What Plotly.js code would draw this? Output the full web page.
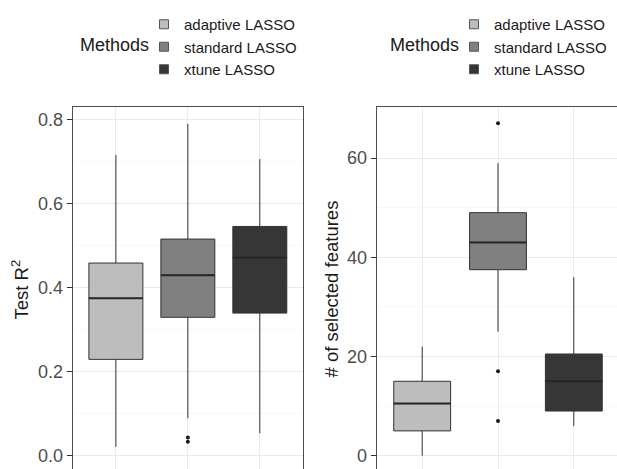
<!DOCTYPE html>
<html>
<head>
<meta charset="utf-8">
<script src="https://cdn.plot.ly/plotly-3.0.1.min.js"></script>
<style>
html,body{margin:0;padding:0;overflow:hidden;background:#fff;}
#chart{width:630px;height:480px;}
</style>
</head>
<body>
<div id="chart"></div>
<script>
// ---- data ----
const methods = ['adaptive LASSO', 'standard LASSO', 'xtune LASSO'];
const fills = ['#bdbdbd', '#808080', '#363636'];

// Test R^2 box statistics
const r2Lower  = [0.021, 0.089, 0.053];
const r2Q1     = [0.229, 0.329, 0.339];
const r2Median = [0.374, 0.429, 0.471];
const r2Q3     = [0.458, 0.515, 0.545];
const r2Upper  = [0.715, 0.789, 0.705];
const r2OutMethod = [1, 1];
const r2OutValue  = [0.043, 0.033];

// # of selected features box statistics
const nfLower  = [0, 25, 6];
const nfQ1     = [5, 37.5, 9];
const nfMedian = [10.5, 43, 15];
const nfQ3     = [15, 49, 20.5];
const nfUpper  = [22, 59, 36];
const nfOutMethod = [1, 1, 1];
const nfOutValue  = [67, 17, 7];

const r2Ticks = [0, 0.2, 0.4, 0.6, 0.8];
const nfTicks = [0, 20, 40, 60];

// ---- styling ----
const FONT = 'Liberation Sans, Arial, Helvetica, sans-serif';
const BOXW = 0.75;
const traces = [];

function addPanel(lower, q1, med, q3, upper, outM, outV, xa, ya, legendId) {
  methods.forEach((m, i) => {
    traces.push({
      type: 'box', name: m, x: [i + 1],
      q1: [q1[i]], median: [med[i]], q3: [q3[i]],
      lowerfence: [lower[i]], upperfence: [upper[i]],
      width: BOXW, fillcolor: fills[i],
      line: {color: '#333333', width: 1},
      whiskerwidth: 0, boxpoints: false,
      xaxis: xa, yaxis: ya, showlegend: false, hoverinfo: 'skip'
    });
    // small legend key
    traces.push({
      type: 'scatter', mode: 'markers', name: m, x: [null], y: [null],
      marker: {symbol: 'square', size: 9, color: fills[i], line: {color: '#555555', width: 1}},
      xaxis: xa, yaxis: ya, legend: legendId, showlegend: true, hoverinfo: 'skip'
    });
  });
  // thicker median lines (from the median array)
  const mx = [], my = [];
  med.forEach((v, i) => { mx.push(i + 1 - BOXW / 2, i + 1 + BOXW / 2, null); my.push(v, v, null); });
  traces.push({type: 'scatter', mode: 'lines', x: mx, y: my, line: {color: '#262626', width: 2},
    xaxis: xa, yaxis: ya, showlegend: false, hoverinfo: 'skip'});
  traces.push({type: 'scatter', mode: 'markers', x: outM.map(k => k + 1), y: outV,
    marker: {color: '#1a1a1a', size: 4}, xaxis: xa, yaxis: ya, showlegend: false, hoverinfo: 'skip'});
}

addPanel(r2Lower, r2Q1, r2Median, r2Q3, r2Upper, r2OutMethod, r2OutValue, 'x', 'y', 'legend');
addPanel(nfLower, nfQ1, nfMedian, nfQ3, nfUpper, nfOutMethod, nfOutValue, 'x2', 'y2', 'legend2');

const W = 630, H = 480;
const yDom = [(H - 472) / H, (H - 107) / H];

function xAxis(dom) {
  return {domain: dom, range: [0.4, 3.6], tickvals: [1, 2, 3], showticklabels: false,
    showgrid: true, gridcolor: '#ebebeb', gridwidth: 1, zeroline: false,
    showline: true, mirror: true, linecolor: '#4d4d4d', linewidth: 1,
    ticks: 'outside', ticklen: 5, tickcolor: '#333333', fixedrange: true};
}
function yAxis(range, ticks, fmt, minorStep, anchor) {
  return {domain: yDom, range: range, tickvals: ticks, tickformat: fmt, anchor: anchor,
    showgrid: true, gridcolor: '#ebebeb', gridwidth: 1, zeroline: false,
    minor: {dtick: minorStep, tick0: 0, showgrid: true, gridcolor: '#f3f3f3', gridwidth: 0.6, ticklen: 0},
    showline: true, mirror: true, linecolor: '#4d4d4d', linewidth: 1,
    ticks: 'outside', ticklen: 5, tickcolor: '#333333',
    tickfont: {family: FONT, size: 18, color: '#4d4d4d'}, fixedrange: true};
}

const legendCommon = {
  font: {family: FONT, size: 15, color: '#1a1a1a'}, bgcolor: 'rgba(0,0,0,0)',
  yanchor: 'top', xanchor: 'left', tracegroupgap: 0, itemclick: false, itemdoubleclick: false
};

const layout = {
  width: W, height: H,
  margin: {l: 0, r: 0, t: 0, b: 0},
  paper_bgcolor: '#ffffff', plot_bgcolor: '#ffffff',
  boxmode: 'overlay',
  font: {family: FONT},
  xaxis: xAxis([72.7 / W, 303 / W]),
  yaxis: yAxis([-0.0388, 0.829], r2Ticks, '.1f', 0.1, 'x'),
  xaxis2: xAxis([376.7 / W, 619.3 / W]),
  yaxis2: yAxis([-3.29, 70.3], nfTicks, 'd', 10, 'x2'),
  legend: Object.assign({x: 144 / W, y: 1 - 8 / H}, legendCommon),
  legend2: Object.assign({x: 454 / W, y: 1 - 8 / H}, legendCommon),
  annotations: [
    {text: 'Methods', x: 151 / W, y: 1 - 45 / H, xref: 'paper', yref: 'paper', xanchor: 'right', yanchor: 'middle',
      showarrow: false, font: {family: FONT, size: 18, color: '#1a1a1a'}},
    {text: 'Methods', x: 461 / W, y: 1 - 45 / H, xref: 'paper', yref: 'paper', xanchor: 'right', yanchor: 'middle',
      showarrow: false, font: {family: FONT, size: 18, color: '#1a1a1a'}},
    {text: 'Test R<sup>2</sup>', x: 21 / W, y: (yDom[0] + yDom[1]) / 2, xref: 'paper', yref: 'paper',
      xanchor: 'center', yanchor: 'middle', textangle: -90, showarrow: false,
      font: {family: FONT, size: 18.5, color: '#1a1a1a'}},
    {text: '# of selected features', x: 331 / W, y: (yDom[0] + yDom[1]) / 2, xref: 'paper', yref: 'paper',
      xanchor: 'center', yanchor: 'middle', textangle: -90, showarrow: false,
      font: {family: FONT, size: 18.5, color: '#1a1a1a'}}
  ]
};

Plotly.newPlot('chart', traces, layout, {displayModeBar: false, staticPlot: true});
</script>
</body>
</html>
